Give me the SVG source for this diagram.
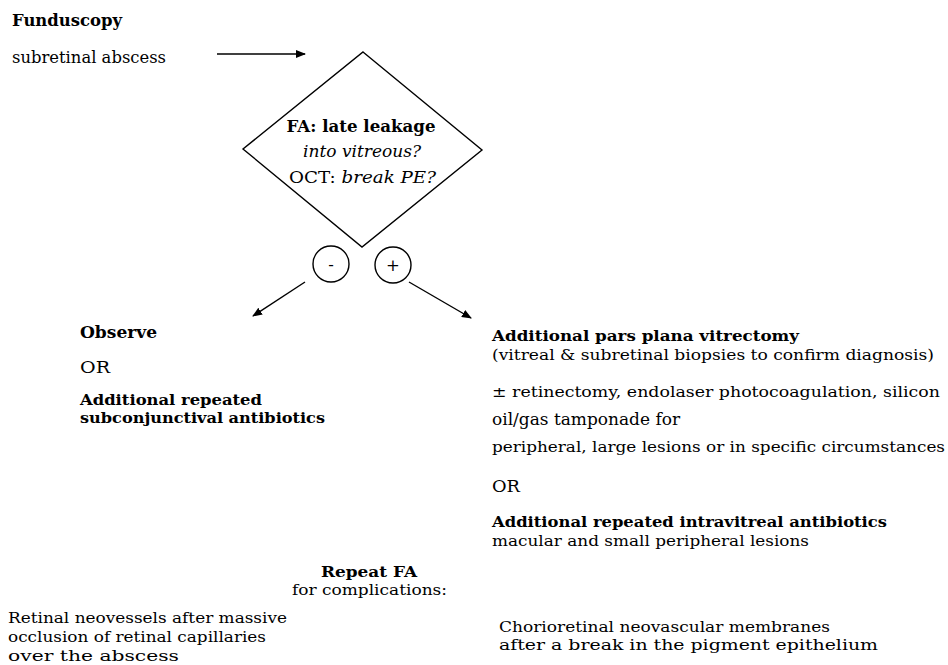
<svg xmlns="http://www.w3.org/2000/svg" width="948" height="665" viewBox="0 0 948 665">
<style>
text{font-family:'DejaVu Serif','Liberation Serif','Times New Roman',serif;fill:#000;font-size:16.5px}
.b{font-weight:bold}
.i{font-style:italic}
.m{text-anchor:middle}
.t{font-size:15px}
.s{font-size:14.5px}
.ln{stroke:#000;stroke-width:1.4;fill:none}
</style>
<defs>
<marker id="ah" markerWidth="10" markerHeight="8" refX="9" refY="4" orient="auto" markerUnits="userSpaceOnUse">
<path d="M0,0 L10,4 L0,8 Z" fill="#000"/>
</marker>
</defs>
<rect width="948" height="665" fill="#fff"/>
<g id="funduscopy">
<text class="b" x="12" y="26" font-size="18" textLength="110" lengthAdjust="spacingAndGlyphs">Funduscopy</text>
<text x="12" y="63" font-size="18" textLength="154" lengthAdjust="spacingAndGlyphs">subretinal abscess</text>
</g>
<g id="decision">
<polygon class="ln" points="363,52 482,150 362,247 243,149"/>
<text class="b m" x="361" y="132" textLength="149" lengthAdjust="spacingAndGlyphs">FA: late leakage</text>
<text class="i m" x="362" y="157" textLength="118" lengthAdjust="spacingAndGlyphs">into vitreous?</text>
<text class="m" x="362.5" y="183" textLength="147" lengthAdjust="spacingAndGlyphs">OCT: <tspan class="i">break PE?</tspan></text>
</g>
<g id="neg">
<circle class="ln" cx="331" cy="264" r="18"/>
<text class="m" x="331" y="270" font-size="16">-</text>
</g>
<g id="pos">
<circle class="ln" cx="393" cy="265" r="18"/>
<text class="m" x="393" y="271" font-size="18">+</text>
</g>
<g id="connectors">
<line class="ln" x1="217" y1="54" x2="305" y2="54" marker-end="url(#ah)"/>
<line class="ln" x1="305" y1="282" x2="253" y2="316" marker-end="url(#ah)"/>
<line class="ln" x1="409" y1="282" x2="471" y2="318" marker-end="url(#ah)"/>
</g>
<g id="observe">
<text class="b" x="80" y="338" textLength="77" lengthAdjust="spacingAndGlyphs">Observe</text>
<text x="80" y="373" textLength="30" lengthAdjust="spacingAndGlyphs">OR</text>
<text class="b t" x="80" y="405" textLength="182" lengthAdjust="spacingAndGlyphs">Additional repeated</text>
<text class="b t" x="80" y="423" textLength="245" lengthAdjust="spacingAndGlyphs">subconjunctival antibiotics</text>
</g>
<g id="vitrectomy">
<text class="b t" x="492" y="341" textLength="307" lengthAdjust="spacingAndGlyphs">Additional pars plana vitrectomy</text>
<text class="t" x="492" y="360" textLength="442" lengthAdjust="spacingAndGlyphs">(vitreal &amp; subretinal biopsies to confirm diagnosis)</text>
<text class="s" x="492" y="397" textLength="448" lengthAdjust="spacingAndGlyphs">± retinectomy, endolaser photocoagulation, silicon</text>
<text x="492" y="425" textLength="188" lengthAdjust="spacingAndGlyphs">oil/gas tamponade for</text>
<text class="s" x="492" y="452" textLength="453" lengthAdjust="spacingAndGlyphs">peripheral, large lesions or in specific circumstances</text>
<text x="492" y="492" textLength="28" lengthAdjust="spacingAndGlyphs">OR</text>
<text class="b t" x="492" y="527" textLength="395" lengthAdjust="spacingAndGlyphs">Additional repeated intravitreal antibiotics</text>
<text class="t" x="492" y="546" textLength="317" lengthAdjust="spacingAndGlyphs">macular and small peripheral lesions</text>
</g>
<g id="repeatfa">
<text class="b m t" x="369" y="577" textLength="96" lengthAdjust="spacingAndGlyphs">Repeat FA</text>
<text class="m t" x="369.5" y="595" textLength="155" lengthAdjust="spacingAndGlyphs">for complications:</text>
</g>
<g id="retinal">
<text class="t" x="8" y="623" textLength="279" lengthAdjust="spacingAndGlyphs">Retinal neovessels after massive</text>
<text class="t" x="8" y="642" textLength="258" lengthAdjust="spacingAndGlyphs">occlusion of retinal capillaries</text>
<text class="t" x="8" y="661" textLength="171" lengthAdjust="spacingAndGlyphs">over the abscess</text>
</g>
<g id="chorio">
<text class="t" x="499" y="632" textLength="331" lengthAdjust="spacingAndGlyphs">Chorioretinal neovascular membranes</text>
<text class="t" x="499" y="650" textLength="379" lengthAdjust="spacingAndGlyphs">after a break in the pigment epithelium</text>
</g>
</svg>
